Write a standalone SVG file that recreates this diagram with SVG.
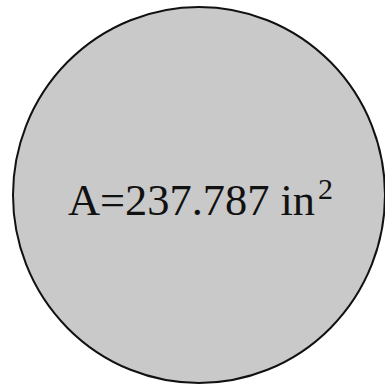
<svg xmlns="http://www.w3.org/2000/svg" width="385" height="386" viewBox="0 0 385 386">
<style>
.lbl{font-family:"Liberation Serif","DejaVu Serif",serif;fill:#111}
</style>
<rect width="385" height="386" fill="#ffffff"/>
<g id="circle">
<ellipse cx="199" cy="195" rx="186" ry="188" fill="#c9c9c9" stroke="#111" stroke-width="2"/>
<text class="lbl" x="68" y="215" font-size="45" textLength="247" lengthAdjust="spacingAndGlyphs">A=237.787 in</text>
<text class="lbl" x="318" y="199" font-size="30">2</text>
</g>
</svg>
